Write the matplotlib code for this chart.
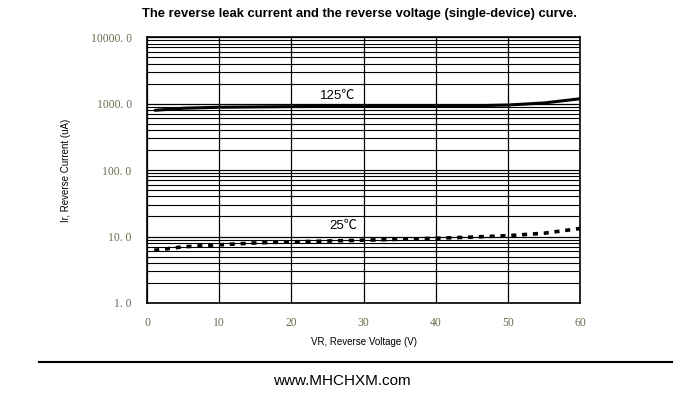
"""Reverse leak current vs reverse voltage (single-device) curve."""
import matplotlib

matplotlib.use("Agg")
import matplotlib.pyplot as plt
from matplotlib.ticker import FixedLocator, LogLocator, NullFormatter

# ---------------------------------------------------------------------------
# Data
# ---------------------------------------------------------------------------
VR_125 = [1, 5, 10, 20, 30, 40, 45, 50, 55, 60]
IR_125 = [790, 850, 880, 900, 910, 920, 925, 950, 1020, 1180]

VR_25 = [1, 5, 10, 15, 20, 30, 40, 45, 50, 55, 60]
IR_25 = [6.2, 7.0, 7.5, 8.0, 8.3, 8.8, 9.4, 9.8, 10.3, 11.2, 13.2]

X_TICKS = [0, 10, 20, 30, 40, 50, 60]
Y_TICKS = [1, 10, 100, 1000, 10000]
Y_LABELS = ["1. 0", "10. 0", "100. 0", "1000. 0", "10000. 0"]

TICK_COLOR = "#6e6a4e"

fig = plt.figure(figsize=(7, 4.12), dpi=100)
ax = fig.add_axes([0.21, 0.2646, 0.6186, 0.6454])

ax.plot(VR_125, IR_125, color="black", lw=2.2, solid_capstyle="butt")
ax.plot(VR_25, IR_25, color="black", lw=2.6, linestyle=(0, (1.4, 1.6)))

ax.set_yscale("log")
ax.set_xlim(0, 60)
ax.set_ylim(1, 10000)

ax.xaxis.set_major_locator(FixedLocator(X_TICKS))
ax.yaxis.set_major_locator(FixedLocator(Y_TICKS))
ax.set_yticklabels(Y_LABELS)
ax.yaxis.set_minor_locator(LogLocator(base=10, subs=range(2, 10), numticks=20))
ax.yaxis.set_minor_formatter(NullFormatter())

ax.grid(True, which="major", color="black", lw=0.9)
ax.grid(True, which="minor", axis="y", color="black", lw=0.8)
ax.tick_params(which="both", length=0, labelsize=8.4, labelcolor=TICK_COLOR)
ax.tick_params(axis="y", pad=11)
ax.tick_params(axis="x", pad=10)
for lbl in ax.get_xticklabels() + ax.get_yticklabels():
    lbl.set_family("Liberation Serif")
for sp in ax.spines.values():
    sp.set_linewidth(1.2)

ax.text(24.0, 1180, "125\u2103", fontsize=9.5, family=["Liberation Sans", "Noto Sans CJK SC"])
ax.text(25.3, 13.2, "25\u2103", fontsize=9.5, family=["Liberation Sans", "Noto Sans CJK SC"])

ax.set_xlabel("VR, Reverse Voltage (V)", fontsize=7, family="Liberation Sans", labelpad=6)
ax.set_ylabel("Ir, Reverse Current (uA)", fontsize=7, family="Liberation Sans", labelpad=14)

fig.text(0.514, 0.966, "The reverse leak current and the reverse voltage (single-device) curve.",
         ha="center", va="center", fontsize=9.4, fontweight="bold", family="Liberation Sans")

fig.add_artist(plt.Line2D([0.055, 0.96], [1 - 362 / 412] * 2, color="black", lw=1.5,
                          transform=fig.transFigure))
fig.text(0.488, 1 - 381 / 412, "www.MHCHXM.com", ha="center", va="center",
         fontsize=11, family="Liberation Sans")

fig.savefig("out.png", dpi=100, facecolor="white")
